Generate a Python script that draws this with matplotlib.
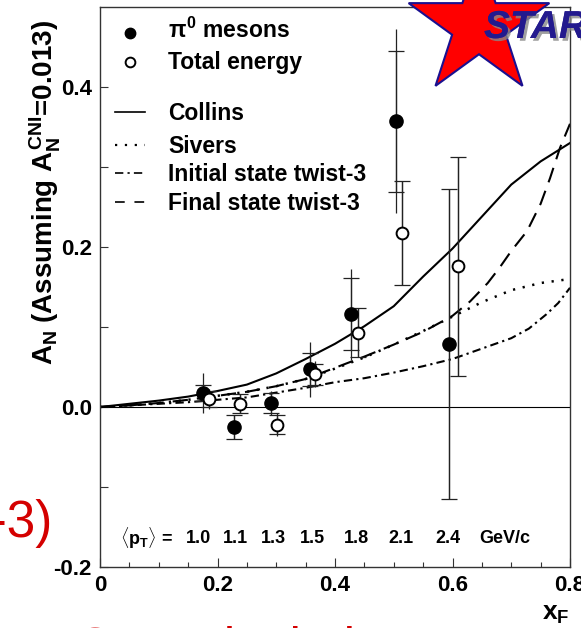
import numpy as np
import matplotlib
matplotlib.use("Agg")
import matplotlib.pyplot as plt
from matplotlib.patches import Polygon
import matplotlib.patheffects as pe

# --- Data ---
x_pi0 = [0.176, 0.228, 0.291, 0.357, 0.427, 0.504, 0.594]
y_pi0 = [0.017, -0.025, 0.005, 0.047, 0.116, 0.357, 0.079]
stat_pi0 = [0.010, 0.015, 0.013, 0.021, 0.045, 0.088, 0.194]
syst_pi0 = [0.025, 0.015, 0.015, 0.034, 0.057, 0.115, 0.194]

x_tot = [0.186, 0.238, 0.301, 0.366, 0.439, 0.514, 0.609]
y_tot = [0.010, 0.004, -0.022, 0.041, 0.093, 0.218, 0.176]
stat_tot = [0.010, 0.012, 0.012, 0.013, 0.031, 0.065, 0.137]
syst_tot = [0.013, 0.012, 0.014, 0.016, 0.031, 0.065, 0.137]

collins_x = [0.0, 0.05, 0.1, 0.15, 0.2, 0.25, 0.3, 0.35, 0.4, 0.45, 0.5, 0.55, 0.6, 0.65, 0.7, 0.75, 0.8]
collins_y = [0.0, 0.004, 0.008, 0.013, 0.020, 0.028, 0.042, 0.060, 0.079, 0.101, 0.126, 0.163, 0.198, 0.238, 0.278, 0.307, 0.330]

sivers_x = [0.0, 0.05, 0.1, 0.15, 0.2, 0.25, 0.3, 0.35, 0.4, 0.45, 0.5, 0.55, 0.6, 0.65, 0.7, 0.75, 0.8]
sivers_y = [0.0, 0.002, 0.005, 0.009, 0.014, 0.019, 0.026, 0.035, 0.048, 0.062, 0.078, 0.095, 0.113, 0.131, 0.146, 0.155, 0.160]

initial_x = [0.0, 0.05, 0.1, 0.15, 0.2, 0.25, 0.3, 0.35, 0.4, 0.45, 0.5, 0.55, 0.6, 0.65, 0.7, 0.73, 0.76, 0.78, 0.8]
initial_y = [0.0, 0.002, 0.004, 0.006, 0.009, 0.012, 0.018, 0.024, 0.031, 0.036, 0.043, 0.051, 0.060, 0.073, 0.086, 0.098, 0.116, 0.130, 0.149]

final_x = [0.0, 0.05, 0.1, 0.15, 0.2, 0.25, 0.3, 0.35, 0.4, 0.45, 0.5, 0.55, 0.6, 0.63, 0.66, 0.68, 0.7, 0.727, 0.75, 0.766, 0.783, 0.8]
final_y = [0.0, 0.002, 0.005, 0.009, 0.014, 0.019, 0.026, 0.035, 0.049, 0.063, 0.078, 0.094, 0.114, 0.132, 0.155, 0.174, 0.195, 0.220, 0.254, 0.286, 0.324, 0.354]

pt_labels = ["1.0", "1.1", "1.3", "1.5", "1.8", "2.1", "2.4"]
pt_label_x = [0.167, 0.230, 0.296, 0.362, 0.436, 0.512, 0.592]

xticks = [0.0, 0.2, 0.4, 0.6, 0.8]
xtick_labels = ["0", "0.2", "0.4", "0.6", "0.8"]
yticks = [-0.2, 0.0, 0.2, 0.4]
ytick_labels = ["-0.2", "0.0", "0.2", "0.4"]

# --- Style ---
plt.rcParams["font.family"] = ["Liberation Sans", "DejaVu Sans"]
plt.rcParams["font.weight"] = "bold"
plt.rcParams["mathtext.fontset"] = "custom"
plt.rcParams["mathtext.rm"] = "Liberation Sans:bold"
plt.rcParams["mathtext.it"] = "Liberation Sans:bold"
plt.rcParams["mathtext.bf"] = "Liberation Sans:bold"
plt.rcParams["lines.scale_dashes"] = False

W, H = 581, 628
fig = plt.figure(figsize=(W / 100, H / 100), dpi=100)
ax = fig.add_axes([100 / W, 61 / H, 470 / W, 560 / H])

DASHED = (0, (11, 6.5))
DOTTED = (0, (1.6, 5.5))
DASHDOT = (0, (6, 3, 1.6, 3))

# --- Curves ---
ax.plot(collins_x, collins_y, color="black", lw=1.5, ls="-", zorder=2)
ax.plot(sivers_x, sivers_y, color="black", lw=1.8, ls=DOTTED, zorder=2)
ax.plot(initial_x, initial_y, color="black", lw=1.5, ls=DASHDOT, zorder=2)
ax.plot(final_x, final_y, color="black", lw=1.5, ls=DASHED, zorder=2)

ax.axhline(0, color="black", lw=0.8, zorder=1)

# --- Points with error bars ---
for xs, ys, st, sy in [(x_pi0, y_pi0, stat_pi0, syst_pi0), (x_tot, y_tot, stat_tot, syst_tot)]:
    ax.errorbar(xs, ys, yerr=sy, fmt="none", ecolor="#222222", elinewidth=0.9, capsize=0, zorder=3)
    ax.errorbar(xs, ys, yerr=st, fmt="none", ecolor="#222222", elinewidth=0.9,
                capsize=5.5, capthick=0.9, zorder=3)

ax.plot(x_pi0, y_pi0, "o", color="black", ms=9.5, zorder=4)
ax.plot(x_tot, y_tot, "o", mfc="white", mec="black", mew=1.4, ms=8.5, zorder=4)

# --- Axes ---
ax.set_xlim(0, 0.8)
ax.set_ylim(-0.2, 0.5)
ax.set_xticks(xticks)
ax.set_xticklabels(xtick_labels)
ax.set_xticks(np.arange(0, 0.801, 0.05), minor=True)
ax.set_yticks(yticks)
ax.set_yticklabels(ytick_labels)
ax.set_yticks([-0.1, 0.1, 0.3], minor=True)
ax.tick_params(axis="both", which="both", direction="in", top=False, right=False,
               width=0.8, color="#333333", labelsize=16)
ax.tick_params(axis="x", which="major", length=6.5, pad=6)
ax.tick_params(axis="x", which="minor", length=3.6)
ax.tick_params(axis="y", which="both", length=5.8, pad=6)
for s in ax.spines.values():
    s.set_linewidth(1.0)
    s.set_color("#333333")

# --- Manual legend (axes fraction from pixel positions) ---
def axx(px):
    return (px - 100) / 470


def axy(py):
    return (567 - py) / 560


tr = ax.transAxes
ax.plot([axx(130)], [axy(33)], "o", color="black", ms=7.5, transform=tr, clip_on=False)
ax.plot([axx(130)], [axy(62)], "o", mfc="white", mec="black", mew=1.4, ms=7, transform=tr, clip_on=False)
ax.text(axx(168), axy(38), r"$\pi^0$ mesons", transform=tr, fontsize=16.5, va="baseline")
ax.text(axx(168), axy(69), "Total energy", transform=tr, fontsize=16.5, va="baseline")

legend_lines = [("Collins", "-", 1.2, 112), ("Sivers", DOTTED, 1.6, 145),
                ("Initial state twist-3", DASHDOT, 1.2, 173), ("Final state twist-3", (0, (7, 7)), 1.2, 202)]
for name, ls, lw, py in legend_lines:
    ax.plot([axx(115), axx(145)], [axy(py), axy(py)], color="black", ls=ls, lw=lw, transform=tr)
    ax.text(axx(168), axy(py + 8), name, transform=tr, fontsize=16.5, va="baseline")

# --- <pT> row (data coordinates) ---
PT_Y = -0.164
ax.text(0.034, PT_Y, r"$\langle p_T\rangle$ =", fontsize=13, va="center", ha="left")
for lab, xp in zip(pt_labels, pt_label_x):
    ax.text(xp, PT_Y, lab, fontsize=13, va="center", ha="center")
ax.text(0.689, PT_Y, "GeV/c", fontsize=13, va="center", ha="center")

# --- Axis titles ---
fig.text(45 / W, 1 - 192 / H, r"$A_N$ (Assuming $A_N^{CNI}$=0.013)", rotation=90,
         fontsize=20, ha="center", va="center")
fig.text(556 / W, (H - 620) / H, r"$x_F$", fontsize=19, ha="center", va="baseline")

# --- Slide leftovers (red text partly off the canvas) ---
fig.text(53 / W, (H - 537) / H, "twist-3)", fontsize=37, color="#d40000",
         fontweight="normal", ha="right", va="baseline")
fig.text(41 / W, (H - 664) / H, "ECM calculation", fontsize=37, color="#d40000",
         fontweight="normal", ha="left", va="baseline")

# --- STAR logo ---
cx, cy, R = 479, 26, 74
ang = np.pi / 2 + np.arange(10) * np.pi / 5
rad = np.where(np.arange(10) % 2 == 0, R, R * 0.382)
star_xy = np.column_stack([(cx + rad * np.cos(ang)) / W, (H - cy + rad * np.sin(ang)) / H])
fig.add_artist(Polygon(star_xy, closed=True, facecolor="#ff0000", edgecolor="#1a1090",
                       lw=1.5, transform=fig.transFigure, zorder=10))
fig.text(484 / W, (H - 38) / H, "STAR", fontsize=28, fontstyle="italic", fontweight="bold",
         color="#231a8e", ha="left", va="baseline", zorder=11,
         path_effects=[pe.withSimplePatchShadow(offset=(2, -2), shadow_rgbFace="#888888", alpha=0.8),
                       pe.Normal()])

fig.savefig("out.png", dpi=100)
